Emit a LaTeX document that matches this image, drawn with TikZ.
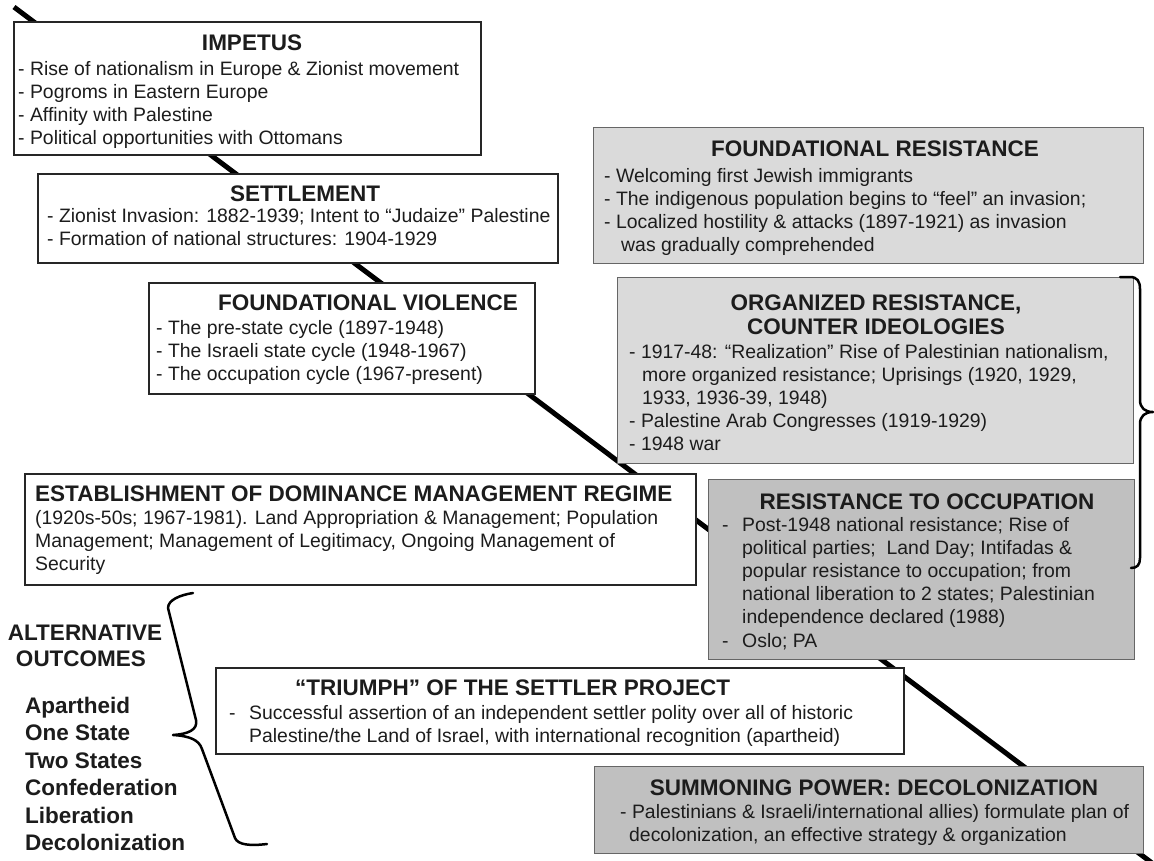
\documentclass[tikz,border=0pt]{standalone}
\usepackage{fontspec}
\setmainfont{Liberation Sans}
\definecolor{ink}{RGB}{28,28,28}
\definecolor{lightbox}{RGB}{218,218,218}
\definecolor{darkbox}{RGB}{192,192,192}
\newcommand\bodyfont{\fontsize{19.4}{23}\selectfont}
\newcommand\headfont{\fontsize{22.5}{27}\selectfont\bfseries}
\tikzset{
  wbox/.style={draw=black!85, line width=2pt, fill=white, rectangle, inner sep=0pt, anchor=north west},
  gbox/.style={draw=black!60, line width=1.4pt, fill=lightbox, rectangle, inner sep=0pt, anchor=north west},
  dbox/.style={draw=black!60, line width=1.4pt, fill=darkbox, rectangle, inner sep=0pt, anchor=north west},
  ttl/.style={font=\headfont, text=ink, inner sep=0pt, anchor=base},
  ttlw/.style={font=\headfont, text=ink, inner sep=0pt, anchor=base west},
  txt/.style={font=\bodyfont, text=ink, inner sep=0pt, anchor=base west},
  timeline/.style={line width=5pt, black},
  brace/.style={line width=2.5pt, black, line cap=round, line join=round},
}
\begin{document}
\begin{tikzpicture}[x=1pt,y=-1pt]
\useasboundingbox (0,0) rectangle (1154,860);

% the time line running behind all boxes
\coordinate (tlA) at (14,7);
\coordinate (tlB) at (1152,863);
\draw[timeline] (tlA) -- (tlB);

% ---------- IMPETUS ----------
\node[wbox, minimum width=467, minimum height=133] (imp) at (13,21) {};
\node[ttl] (impT) at (252,50) {IMPETUS};
\node[txt] (imp1) at (18,75)  {- Rise of nationalism in Europe \& Zionist movement};
\node[txt] (imp2) at (18,98)  {- Pogroms in Eastern Europe};
\node[txt] (imp3) at (18,121) {- Affinity with Palestine};
\node[txt] (imp4) at (18,144) {- Political opportunities with Ottomans};

% ---------- SETTLEMENT ----------
\node[wbox, minimum width=520, minimum height=89] (set) at (37,173) {};
\node[ttl] (setT) at (305,201) {SETTLEMENT};
\node[txt] (set1) at (47,222) {- Zionist Invasion: 1882-1939; Intent to “Judaize” Palestine};
\node[txt] (set2) at (47,245) {- Formation of national structures: 1904-1929};

% ---------- FOUNDATIONAL VIOLENCE ----------
\node[wbox, minimum width=386, minimum height=111] (fv) at (148,282) {};
\node[ttl] (fvT) at (368,310) {FOUNDATIONAL VIOLENCE};
\node[txt] (fv1) at (156,334) {- The pre-state cycle (1897-1948)};
\node[txt] (fv2) at (156,357) {- The Israeli state cycle (1948-1967)};
\node[txt] (fv3) at (156,380) {- The occupation cycle (1967-present)};

% ---------- FOUNDATIONAL RESISTANCE ----------
\node[gbox, minimum width=550, minimum height=136] (fr) at (593,127) {};
\node[ttl] (frT) at (875,156) {FOUNDATIONAL RESISTANCE};
\node[txt] (fr1) at (604,182) {- Welcoming first Jewish immigrants};
\node[txt] (fr2) at (604,205) {- The indigenous population begins to “feel” an invasion;};
\node[txt] (fr3) at (604,228) {- Localized hostility \& attacks (1897-1921) as invasion};
\node[txt] (fr4) at (621,251) {was gradually comprehended};

% ---------- ORGANIZED RESISTANCE ----------
\node[gbox, minimum width=516, minimum height=186] (or) at (617,277) {};
\node[ttl] (orT1) at (876,310) {ORGANIZED RESISTANCE,};
\node[ttl] (orT2) at (876,334) {COUNTER IDEOLOGIES};
\node[txt] (or1) at (629,358) {- 1917-48: “Realization” Rise of Palestinian nationalism,};
\node[txt] (or2) at (642,381) {more organized resistance; Uprisings (1920, 1929,};
\node[txt] (or3) at (642,404) {1933, 1936-39, 1948)};
\node[txt] (or4) at (629,427) {- Palestine Arab Congresses (1919-1929)};
\node[txt] (or5) at (629,450) {- 1948 war};

% ---------- DOMINANCE MANAGEMENT REGIME ----------
\node[wbox, minimum width=671, minimum height=111] (est) at (24,473) {};
\node[ttlw] (estT) at (35,501) {ESTABLISHMENT OF DOMINANCE MANAGEMENT REGIME};
\node[txt] (est1) at (35,524) {(1920s-50s; 1967-1981). Land Appropriation \& Management; Population};
\node[txt] (est2) at (35,547) {Management; Management of Legitimacy, Ongoing Management of};
\node[txt] (est3) at (35,570) {Security};

% ---------- RESISTANCE TO OCCUPATION ----------
\node[dbox, minimum width=426, minimum height=180] (ro) at (708,479) {};
\node[ttl] (roT) at (927,509) {RESISTANCE TO OCCUPATION};
\node[txt] (roD1) at (722,531) {-};
\node[txt] (ro1) at (742,531) {Post-1948 national resistance; Rise of};
\node[txt] (ro2) at (742,554) {political parties;\ \ Land Day; Intifadas \&};
\node[txt] (ro3) at (742,577) {popular resistance to occupation; from};
\node[txt] (ro4) at (742,600) {national liberation to 2 states; Palestinian};
\node[txt] (ro5) at (742,623) {independence declared (1988)};
\node[txt] (roD2) at (722,647) {-};
\node[txt] (ro6) at (742,647) {Oslo; PA};

% ---------- TRIUMPH OF THE SETTLER PROJECT ----------
\node[wbox, minimum width=688, minimum height=86] (tri) at (215,667) {};
\node[ttlw] (triT) at (295,695) {“TRIUMPH” OF THE SETTLER PROJECT};
\node[txt] (triD) at (229,719) {-};
\node[txt] (tri1) at (249,719) {Successful assertion of an independent settler polity over all of historic};
\node[txt] (tri2) at (249,742) {Palestine/the Land of Israel, with international recognition (apartheid)};

% ---------- SUMMONING POWER ----------
\node[dbox, minimum width=549, minimum height=87] (sum) at (594,766) {};
\node[ttl] (sumT) at (874,795) {SUMMONING POWER: DECOLONIZATION};
\node[txt] (sum1) at (620,818) {- Palestinians \& Israeli/international allies) formulate plan of};
\node[txt] (sum2) at (629,841) {decolonization, an effective strategy \& organization};

% ---------- alternative outcomes ----------
\node[ttl] (altT1) at (85,640) {ALTERNATIVE};
\node[ttl] (altT2) at (81,666) {OUTCOMES};
\node[ttlw] (alt1) at (25,713) {Apartheid};
\node[ttlw] (alt2) at (25,740) {One State};
\node[ttlw] (alt3) at (25,768) {Two States};
\node[ttlw] (alt4) at (25,795) {Confederation};
\node[ttlw] (alt5) at (25,823) {Liberation};
\node[ttlw] (alt6) at (25,850) {Decolonization};

% slanted brace gathering the outcomes
\draw[brace] (193,593) .. controls (180,595) and (168,600) .. (168,608)
  -- (196,720) .. controls (198,730) and (188,734) .. (173,735)
  .. controls (190,736) and (199,740) .. (202,749)
  -- (235,838) .. controls (238,845) and (250,846) .. (267,844);

% brace on the right grouping the two later resistance phases
\draw[brace] (1120,277) -- (1130,277) .. controls (1137,277) and (1140,281) .. (1140,289)
  -- (1140,400) .. controls (1140,408) and (1145,412) .. (1153,412)
  .. controls (1145,412) and (1140,416) .. (1140,424)
  -- (1140,558) .. controls (1140,565) and (1137,568) .. (1131,568);
\end{tikzpicture}
\end{document}
